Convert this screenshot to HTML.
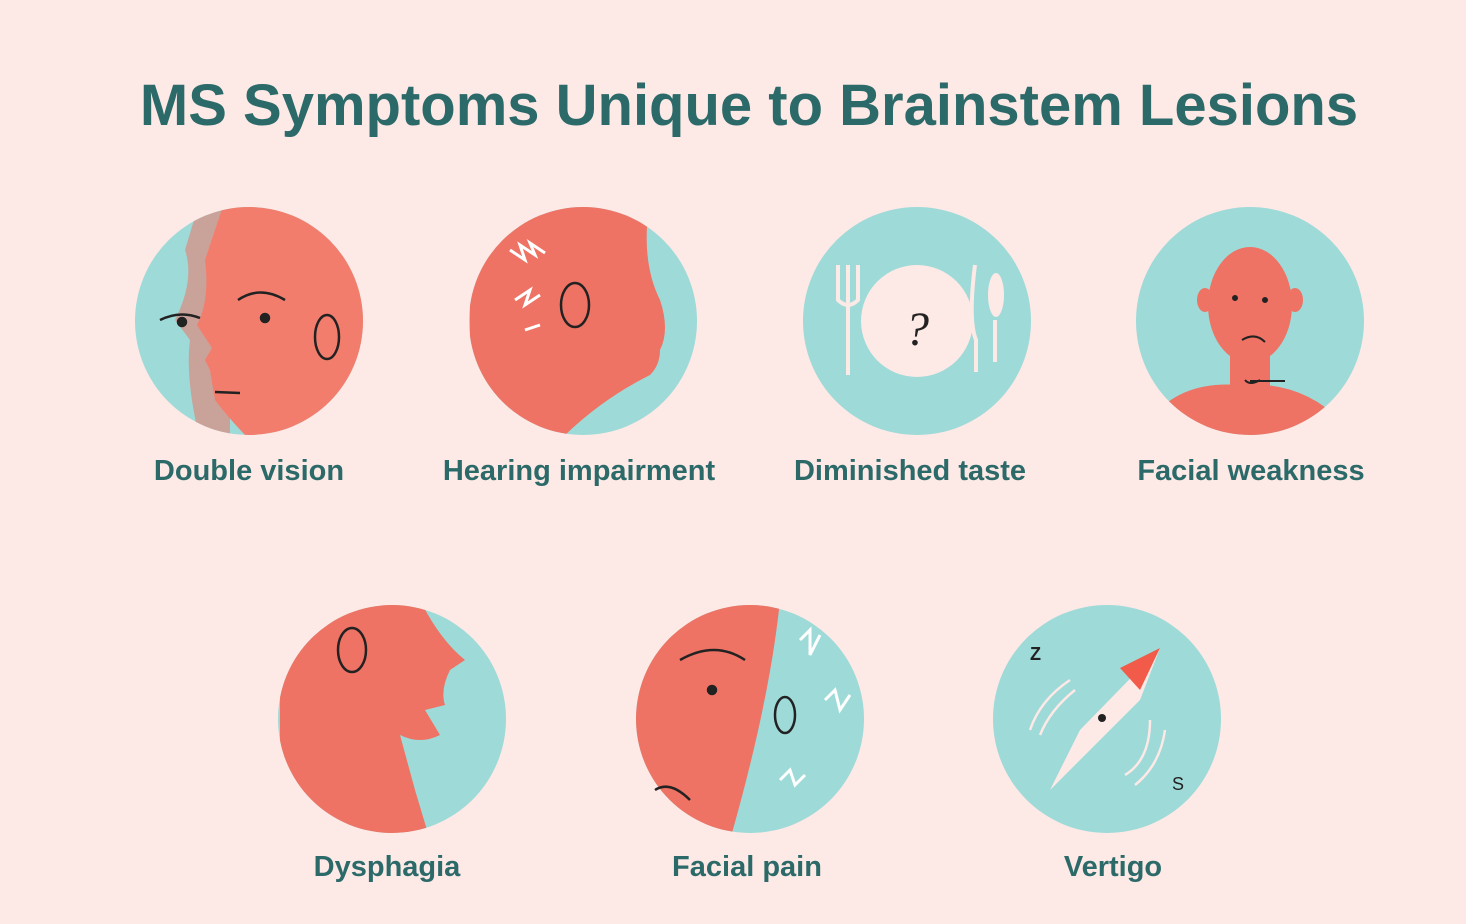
<!DOCTYPE html>
<html><head><meta charset="utf-8"><style>
html,body{margin:0;padding:0;background:#fde9e6;}
body{width:1466px;height:924px;position:relative;overflow:hidden;font-family:"Liberation Sans",sans-serif;}
h1{position:absolute;left:0;width:1498px;top:72px;margin:0;text-align:center;font-size:58px;font-weight:bold;color:#2b6a69;letter-spacing:0px;}
.l{position:absolute;font-size:29px;font-weight:bold;color:#2b6a69;text-align:center;width:360px;}
svg{position:absolute;left:0;top:0;}
</style></head><body>
<h1>MS Symptoms Unique to Brainstem Lesions</h1>
<svg width="1466" height="924" viewBox="0 0 1466 924">
<defs>
<clipPath id="c1"><circle cx="249" cy="321" r="114"/></clipPath>
<clipPath id="c2"><circle cx="583" cy="321" r="114"/></clipPath>
<clipPath id="c4"><circle cx="1250" cy="321" r="114"/></clipPath>
<clipPath id="c5"><circle cx="392" cy="719" r="114"/></clipPath>
<clipPath id="c6"><circle cx="750" cy="719" r="114"/></clipPath>
</defs>
<g fill="#9edad8">
<circle cx="249" cy="321" r="114"/><circle cx="583" cy="321" r="114"/><circle cx="917" cy="321" r="114"/><circle cx="1250" cy="321" r="114"/>
<circle cx="392" cy="719" r="114"/><circle cx="750" cy="719" r="114"/><circle cx="1107" cy="719" r="114"/>
</g>
<g clip-path="url(#c1)">
<path d="M200 200 L230 200 L230 440 L200 440 Q185 380 190 340 L175 320 Q195 280 185 250 Z" fill="#c9a39a"/>
<path d="M225 200 L380 200 L380 440 L250 440 Q230 420 215 400 L210 370 L205 360 L212 348 L197 325 Q210 300 205 260 Z" fill="#f27d6d"/>
<ellipse cx="327" cy="337" rx="12" ry="22" fill="none" stroke="#222" stroke-width="2.5"/>
</g>
<g stroke="#222" stroke-width="2.5" fill="none">
<path d="M238 300 Q260 285 285 300"/><circle cx="265" cy="318" r="4" fill="#222"/><path d="M160 320 Q180 310 200 318"/><circle cx="182" cy="322" r="4" fill="#222"/><path d="M215 392 L240 393"/>
</g>
<g clip-path="url(#c2)">
<path d="M470 200 L650 200 Q640 260 660 300 Q670 330 660 350 Q660 365 650 375 Q600 400 560 440 L470 440 Z" fill="#ee7364"/>
<ellipse cx="575" cy="305" rx="14" ry="22" fill="none" stroke="#222" stroke-width="2.5"/>
<path d="M510 250 l15 10 l-5 -15 l15 10 l-5 -12 l15 10 M515 300 l15 -10 l-5 15 l15 -10 M525 330 l15 -5" stroke="#fff" stroke-width="3" fill="none"/>
</g>
<circle cx="917" cy="321" r="56" fill="#fde9e6"/>
<text x="905" y="345" font-size="48" font-family="Liberation Serif" font-style="italic" fill="#222">?</text>
<g stroke="#fde9e6" stroke-width="4" fill="none">
<path d="M848 280 L848 375 M838 265 L838 300 Q848 310 858 300 L858 265 M848 265 L848 300"/>
<path d="M975 265 Q968 320 976 340 L976 372"/>
<path d="M995 320 L995 362"/></g>
<ellipse cx="996" cy="295" rx="8" ry="22" fill="#fde9e6"/>
<g clip-path="url(#c4)">
<path d="M1150 420 Q1180 380 1240 385 Q1300 380 1340 420 L1340 440 L1150 440 Z" fill="#ee7364"/>
<rect x="1230" y="340" width="40" height="50" fill="#ee7364"/>
</g>
<ellipse cx="1250" cy="305" rx="42" ry="58" fill="#ee7364"/>
<ellipse cx="1205" cy="300" rx="8" ry="12" fill="#ee7364"/><ellipse cx="1295" cy="300" rx="8" ry="12" fill="#ee7364"/>
<g stroke="#222" stroke-width="2" fill="none"><circle cx="1235" cy="298" r="2" fill="#222"/><circle cx="1265" cy="300" r="2" fill="#222"/><path d="M1242 340 Q1255 332 1265 342"/><path d="M1245 380 Q1250 386 1260 380"/><path d="M1250 381 L1285 381"/></g>
<g clip-path="url(#c5)">
<path d="M280 600 L420 600 Q440 640 465 660 L450 670 Q440 690 445 705 L425 710 L440 735 Q420 745 400 735 L415 790 L430 840 L280 840 Z" fill="#ee7364"/>
<ellipse cx="352" cy="650" rx="14" ry="22" fill="none" stroke="#222" stroke-width="2.5"/>
</g>
<g clip-path="url(#c6)">
<path d="M630 600 L780 600 Q770 700 730 840 L630 840 Z" fill="#ee7364"/>
<path d="M800 640 l10 -10 l0 25 l10 -20 M825 700 l10 -10 l5 20 l10 -15 M780 780 l10 -10 l5 15 l10 -10" stroke="#fff" stroke-width="3" fill="none"/>
</g>
<g stroke="#222" stroke-width="2.5" fill="none"><path d="M680 660 Q715 640 745 660"/><circle cx="712" cy="690" r="4" fill="#222"/><path d="M655 790 Q670 780 690 800"/><ellipse cx="785" cy="715" rx="10" ry="18"/></g>
<path d="M1160 648 L1140 700 L1050 790 L1080 730 Z" fill="#fde9e6"/>
<path d="M1160 648 L1120 668 L1140 690 Z" fill="#f25a4a"/>
<circle cx="1102" cy="718" r="4" fill="#222"/>
<g stroke="#fde9e6" stroke-width="2.5" fill="none"><path d="M1030 730 Q1040 700 1070 680 M1040 735 Q1050 710 1075 690 M1150 720 Q1150 760 1125 775 M1165 730 Q1160 765 1135 785"/></g>
<text x="1030" y="660" font-size="18" font-weight="bold" fill="#222">Z</text>
<text x="1172" y="790" font-size="18" fill="#222">S</text>
</svg>
<div class="l" style="left:69px;top:455px">Double vision</div>
<div class="l" style="left:399px;top:455px">Hearing impairment</div>
<div class="l" style="left:730px;top:455px">Diminished taste</div>
<div class="l" style="left:1071px;top:455px">Facial weakness</div>
<div class="l" style="left:207px;top:851px">Dysphagia</div>
<div class="l" style="left:567px;top:851px">Facial pain</div>
<div class="l" style="left:933px;top:851px">Vertigo</div>
</body></html>
